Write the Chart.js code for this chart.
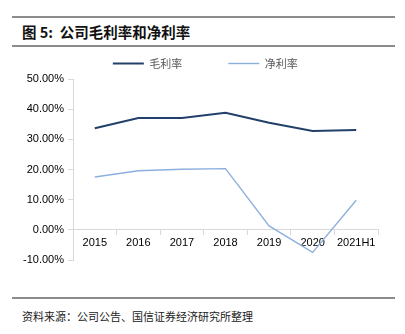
<!DOCTYPE html>
<html lang="zh">
<head>
  <meta charset="UTF-8">
  <title>公司毛利率和净利率</title>
  <script src="https://cdn.jsdelivr.net/npm/chart.js"></script>
  <style>
    body {
      margin: 0;
      width: 405px;
      height: 334px;
      background: white;
      position: relative;
      font-family: "Noto Sans CJK SC", sans-serif;
      overflow: hidden;
    }
    .rule {
      position: absolute;
      left: 12px;
      width: 383px;
      height: 2px;
      background: #8c8c8c;
    }
    #title {
      position: absolute;
      left: 22px;
      top: 22px;
      font-size: 14.5px;
      font-weight: bold;
      color: #111;
      line-height: 20px;
      white-space: pre;
    }
    #footer {
      position: absolute;
      left: 22px;
      top: 308px;
      font-size: 11px;
      color: #222;
      line-height: 16px;
    }
    #box {
      position: absolute;
      left: 0;
      top: 50px;
      width: 405px;
      height: 230px;
    }
  </style>
</head>
<body>
  <div class="rule" style="top:16px"></div>
  <div id="title">图 5:  公司毛利率和净利率</div>
  <div class="rule" style="top:45px"></div>
  <div id="box"><canvas id="chart"></canvas></div>
  <div class="rule" style="top:297px"></div>
  <div id="footer">资料来源：公司公告、国信证券经济研究所整理</div>
  <script>
    const years = ['2015', '2016', '2017', '2018', '2019', '2020', '2021H1'];
    const grossMargin = [33.7, 37.1, 37.1, 38.8, 35.5, 32.8, 33.1];
    const netMargin = [17.5, 19.6, 20.1, 20.3, 1.3, -7.5, 9.8];
    const yTicks = [-10, 0, 10, 20, 30, 40, 50];

    const axisColor = '#d9d9d9';

    new Chart(document.getElementById('chart'), {
      type: 'line',
      data: {
        labels: years,
        datasets: [
          { label: '毛利率', data: grossMargin, borderColor: '#22406a', backgroundColor: '#22406a', borderWidth: 2, pointRadius: 0, tension: 0 },
          { label: '净利率', data: netMargin, borderColor: '#8cb0de', backgroundColor: '#8cb0de', borderWidth: 1.4, pointRadius: 0, tension: 0 }
        ]
      },
      options: {
        responsive: true,
        maintainAspectRatio: false,
        animation: false,
        layout: { padding: { left: 18, right: 27, top: 0, bottom: 20 } },
        plugins: {
          tooltip: { enabled: false },
          legend: {
            position: 'top',
            fullSize: false,
            labels: {
              usePointStyle: true,
              pointStyle: 'line',
              pointStyleWidth: 31,
              padding: 8,
              color: '#595959',
              font: { family: '"Noto Sans CJK SC"', size: 11 },
              // widen the gap between entries and pull the row a bit left
              generateLabels: chart => {
                const items = Chart.defaults.plugins.legend.labels.generateLabels(chart);
                items[0].text = items[0].text + '\u3000\u3000\u3000  ';
                items[1].text = items[1].text + '\u3000\u3000\u3000   ';
                return items;
              }
            }
          }
        },
        scales: {
          x: {
            offset: true,
            position: { y: 0 },
            grid: { drawOnChartArea: false, drawTicks: true, tickLength: 5, color: axisColor, offset: true },
            border: { color: axisColor, width: 1 },
            ticks: { color: '#000', padding: 2, maxRotation: 0, autoSkip: false, font: { family: 'Liberation Sans', size: 11 } }
          },
          y: {
            min: -10,
            max: 50,
            afterBuildTicks: axis => { axis.ticks = yTicks.map(v => ({ value: v })); },
            afterFit: axis => { axis.width = 55; },
            grid: { drawOnChartArea: false, drawTicks: true, tickLength: 5, color: axisColor },
            border: { color: axisColor, width: 1 },
            ticks: {
              color: '#000',
              padding: 4,
              font: { family: 'Liberation Sans', size: 11 },
              callback: v => v.toFixed(2) + '%'
            }
          }
        }
      }
    });
  </script>
</body>
</html>
